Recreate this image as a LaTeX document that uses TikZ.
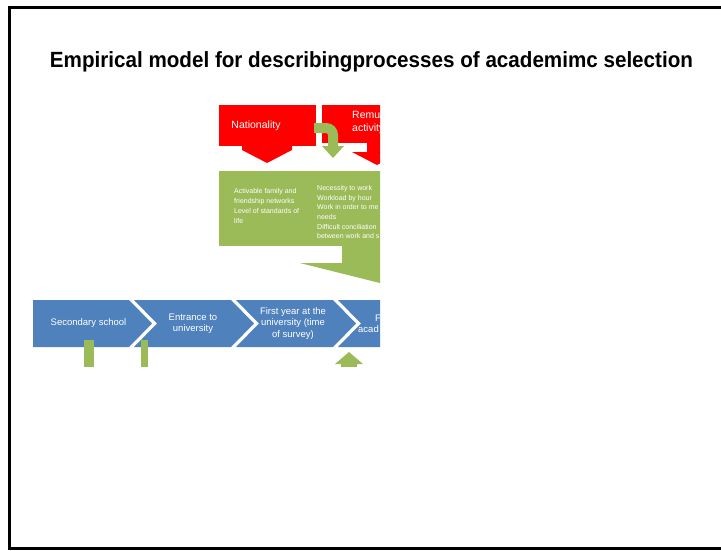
\documentclass[tikz,border=0pt]{standalone}
\usepackage{fontspec}
\setmainfont{Liberation Sans}
\usepackage{graphicx}
\definecolor{ored}{HTML}{FF0000}
\definecolor{ogreen}{HTML}{9BBB59}
\definecolor{oblue}{HTML}{4F81BD}
\begin{document}
\begin{tikzpicture}[x=1pt,y=-1pt,
  chevtext/.style={text=white, font=\fontsize{9.5}{11.5}\selectfont, align=center, inner sep=0pt},
  smalltext/.style={text=white, font=\fontsize{7}{10}\selectfont, align=left, inner sep=0pt, anchor=north west},
  redtext/.style={text=white, font=\fontsize{10.5}{13}\selectfont, align=left, inner sep=0pt}]
\useasboundingbox (0,0) rectangle (721,550);
\fill[white] (0,0) rectangle (721,550);
\draw[line width=2.7pt] (722,7.3) -- (9.7,7.3) -- (9.7,548.7) -- (722,548.7);
\node[anchor=base, font=\bfseries\fontsize{22}{26}\selectfont, inner sep=0pt] (title) at (371.5,67)
  {\resizebox{643pt}{\height}{Empirical model for describingprocesses of academimc selection}};
\begin{scope}
\clip (0,0) rectangle (380,367);
% red boxes with arrow heads
\fill[ored] (219,105) rectangle (316,146);
\fill[ored] (242,146) -- (292,146) -- (292,150) -- (267,163) -- (242,150) -- cycle;
\fill[ored] (322,105) rectangle (440,143);
\fill[ored] (367,142) rectangle (387,152.5);
\fill[ored] (352,152) -- (402,152) -- (377,165) -- cycle;
\node[redtext] (nat) at (256,126) {Nationality};
\node[redtext, anchor=west] (rem) at (352,122) {Remun\\activity};
% green bent arrow
\draw[ogreen, line width=10pt, rounded corners=7pt] (314,128) -- (333,128) -- (333,147);
\fill[ogreen] (322,146) -- (344,146) -- (333,158) -- cycle;
% green big callout
\fill[ogreen] (219,171) rectangle (400,246);
\fill[ogreen] (342,245) rectangle (400,263.5);
\fill[ogreen] (300,263) -- (460,263) -- (380,283) -- cycle;
\node[smalltext] (gl) at (234,188.4) {Activable family and\\friendship networks\\Level of standards of\\life};
\node[smalltext, font=\fontsize{7}{9.6}\selectfont] (gr) at (317,185.4) {Necessity to work\\Workload by hour\\Work in order to me\\needs\\Difficult conciliation\\between work and s};
% chevrons
\fill[oblue] (33,300) -- (129,300) -- (152,323.5) -- (129,347) -- (33,347) -- cycle;
\foreach \L in {134,236,338}{
  \fill[oblue] (\L,300) -- (\L+97,300) -- (\L+120,323.5) -- (\L+97,347) -- (\L,347) -- (\L+23,323.5) -- cycle;
}
\node[chevtext] (c1) at (88.5,323.5) {Secondary school};
\node[chevtext] (c2) at (193,323.5) {Entrance to\\university};
\node[chevtext] (c3) at (293,323.5) {First year at the\\university (time\\of survey)};
\node[chevtext, anchor=west] (c4a) at (375,318) {F};
\node[chevtext, anchor=west] (c4b) at (358,329) {acad};
% green bars and up arrow
\fill[ogreen] (84,340) rectangle (94,367);
\fill[ogreen] (141,340) rectangle (148,367);
\fill[ogreen] (335,364) -- (349,352) -- (363,364) -- cycle;
\fill[ogreen] (341,363.5) rectangle (357,367);
\end{scope}
\end{tikzpicture}
\end{document}
